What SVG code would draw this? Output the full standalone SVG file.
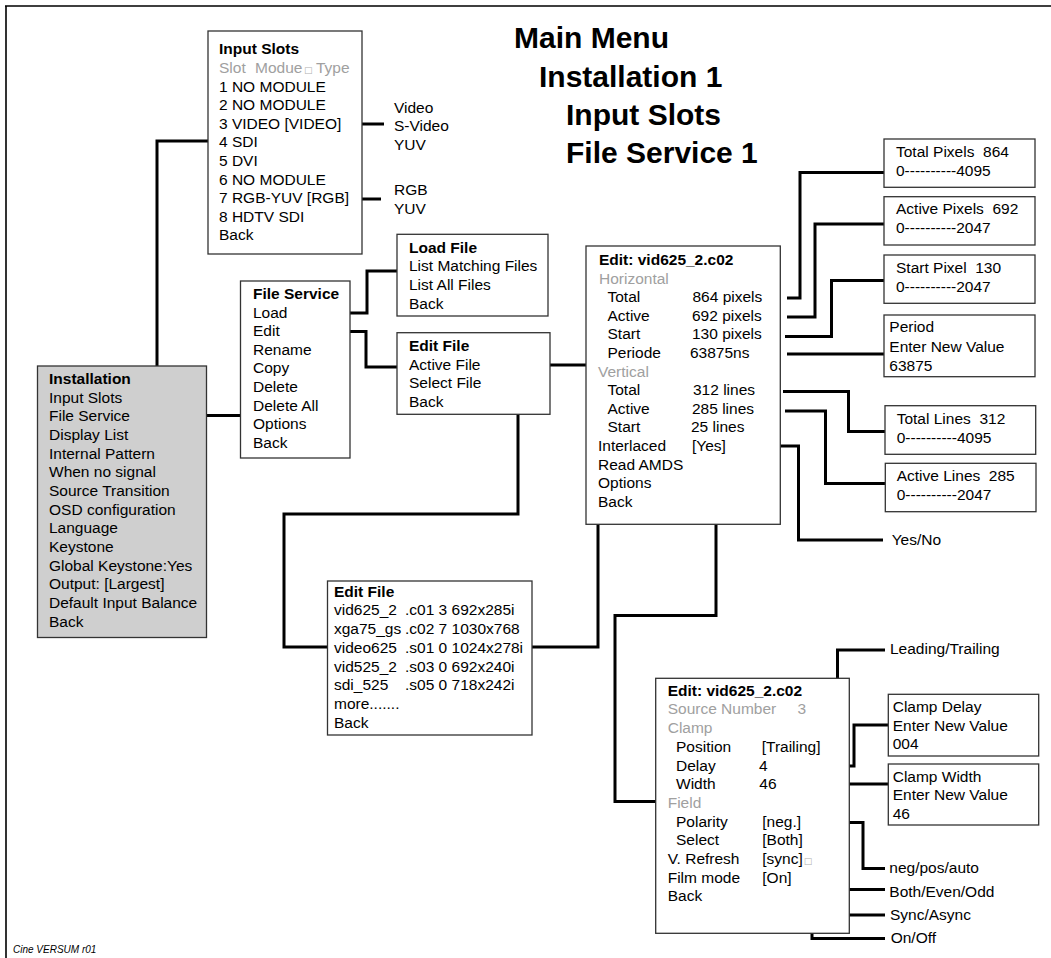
<svg xmlns="http://www.w3.org/2000/svg" width="1051" height="958" viewBox="0 0 1051 958">
<style>
text{font-family:"Liberation Sans",Arial,sans-serif;font-size:15.5px;fill:#000}
.b{font-weight:bold}
.g{fill:#a0a0a0}
.h{font-weight:bold;font-size:30px}
.box{fill:#fff;stroke:#333;stroke-width:1.3}
.gray{fill:#cfcfcf;stroke:#333;stroke-width:1.3}
.c{fill:none;stroke:#000;stroke-width:3;stroke-linejoin:miter}
.sq{font-family:"DejaVu Sans",sans-serif;font-size:9px;fill:#b0b0b0}
.f{font-size:10px;font-style:italic}
</style>
<rect width="1051" height="958" fill="#fff"/>
<g id="frame"><path d="M5,6H1051M6,6V958" fill="none" stroke="#000" stroke-width="1.6"/></g>
<g id="title">
<text class="h" x="514" y="48">Main Menu</text>
<text class="h" x="539" y="87">Installation 1</text>
<text class="h" x="566" y="125">Input Slots</text>
<text class="h" x="566" y="163">File Service 1</text>
</g>
<g id="connectors">
<path class="c" d="M353,124H384"/>
<path class="c" d="M358,199H381"/>
<path class="c" d="M135,397.5H157V141H208"/>
<path class="c" d="M142,415.5H241"/>
<path class="c" d="M303,313H367V271H397"/>
<path class="c" d="M291,331.5H366V367H397"/>
<path class="c" d="M492,365H586"/>
<path class="c" d="M492,383.5H518V514H284V647H328"/>
<path class="c" d="M532,647H598V524"/>
<path class="c" d="M787,298H800V172.5H884"/>
<path class="c" d="M787,317H815V224H884"/>
<path class="c" d="M785,336.5H831.5V280.5H884"/>
<path class="c" d="M787,354H884"/>
<path class="c" d="M783,391.5H848.5V431.5H885"/>
<path class="c" d="M785,411H825.5V483.5H885"/>
<path class="c" d="M740,446H798.5V540H883"/>
<path class="c" d="M670,488.5H716V615.5H615V801.5H656"/>
<path class="c" d="M827.5,747.5H837.5V650H885"/>
<path class="c" d="M776.5,766H854V725H888"/>
<path class="c" d="M793,784H888"/>
<path class="c" d="M808,822.5H863V868.5H885"/>
<path class="c" d="M808,840.5H840V889.5H885"/>
<path class="c" d="M815,860H825.5V915H885"/>
<path class="c" d="M808,880.5H812V938.5H885"/>
</g>
<g id="input-slots">
<rect class="box" x="208" y="31" width="154" height="223"/>
<text class="b" x="219" y="54.3">Input Slots</text>
<text class="g" x="219" y="72.9">Slot<tspan x="255">Modue</tspan><tspan class="sq" x="304">□</tspan><tspan x="316">Type</tspan></text>
<text x="219" y="91.5">1 NO MODULE</text>
<text x="219" y="110.1">2 NO MODULE</text>
<text x="219" y="128.7">3 VIDEO [VIDEO]</text>
<text x="219" y="147.3">4 SDI</text>
<text x="219" y="165.9">5 DVI</text>
<text x="219" y="184.5">6 NO MODULE</text>
<text x="219" y="203.1">7 RGB-YUV [RGB]</text>
<text x="219" y="221.7">8 HDTV SDI</text>
<text x="219" y="240.3">Back</text>
</g>
<g id="video-types">
<text x="394" y="112.7">Video</text>
<text x="394" y="131.2">S-Video</text>
<text x="394" y="149.8">YUV</text>
</g>
<g id="rgb-types">
<text x="394" y="195">RGB</text>
<text x="394" y="213.8">YUV</text>
</g>
<g id="installation">
<rect class="gray" x="37.5" y="366" width="169" height="271.5"/>
<text class="b" x="49" y="384">Installation</text>
<text x="49" y="402.7">Input Slots</text>
<text x="49" y="421.3">File Service</text>
<text x="49" y="440">Display List</text>
<text x="49" y="458.7">Internal Pattern</text>
<text x="49" y="477.3">When no signal</text>
<text x="49" y="496">Source Transition</text>
<text x="49" y="514.7">OSD configuration</text>
<text x="49" y="533.3">Language</text>
<text x="49" y="552">Keystone</text>
<text x="49" y="570.7">Global Keystone:Yes</text>
<text x="49" y="589.3">Output: [Largest]</text>
<text x="49" y="608">Default Input Balance</text>
<text x="49" y="626.7">Back</text>
</g>
<g id="file-service">
<rect class="box" x="240.5" y="281" width="109.5" height="177"/>
<text class="b" x="253" y="299">File Service</text>
<text x="253" y="317.6">Load</text>
<text x="253" y="336.2">Edit</text>
<text x="253" y="354.8">Rename</text>
<text x="253" y="373.4">Copy</text>
<text x="253" y="392">Delete</text>
<text x="253" y="410.6">Delete All</text>
<text x="253" y="429.2">Options</text>
<text x="253" y="447.8">Back</text>
</g>
<g id="load-file">
<rect class="box" x="397" y="234.3" width="151" height="81.7"/>
<text class="b" x="409" y="252.7">Load File</text>
<text x="409" y="271.3">List Matching Files</text>
<text x="409" y="289.9">List All Files</text>
<text x="409" y="308.5">Back</text>
</g>
<g id="edit-file">
<rect class="box" x="397" y="332.7" width="153" height="81.6"/>
<text class="b" x="409" y="351">Edit File</text>
<text x="409" y="369.6">Active File</text>
<text x="409" y="388.2">Select File</text>
<text x="409" y="406.8">Back</text>
</g>
<g id="edit-file-list">
<rect class="box" x="327.5" y="581" width="204.5" height="154"/>
<text class="b" x="334" y="596.7">Edit File</text>
<text x="334" y="615.4">vid625_2<tspan x="405">.c01 3 692x285i</tspan></text>
<text x="334" y="634.1">xga75_gs<tspan x="405">.c02 7 1030x768</tspan></text>
<text x="334" y="652.8">video625<tspan x="405">.s01 0 1024x278i</tspan></text>
<text x="334" y="671.5">vid525_2<tspan x="405">.s03 0 692x240i</tspan></text>
<text x="334" y="690.2">sdi_525<tspan x="405">.s05 0 718x242i</tspan></text>
<text x="334" y="708.9">more.......</text>
<text x="334" y="727.6">Back</text>
</g>
<g id="edit-active">
<rect class="box" x="586" y="246" width="194.3" height="278.3"/>
<text class="b" x="599" y="265">Edit: vid625_2.c02</text>
<text class="g" x="599" y="283.6">Horizontal</text>
<text x="607.5" y="302.2">Total<tspan x="692.5">864 pixels</tspan></text>
<text x="607.5" y="320.8">Active<tspan x="692">692 pixels</tspan></text>
<text x="607.5" y="339.4">Start<tspan x="692">130 pixels</tspan></text>
<text x="607.5" y="358">Periode<tspan x="690">63875ns</tspan></text>
<text class="g" x="598" y="376.6">Vertical</text>
<text x="607.5" y="395.2">Total<tspan x="693">312 lines</tspan></text>
<text x="607.5" y="413.8">Active<tspan x="692">285 lines</tspan></text>
<text x="607.5" y="432.4">Start<tspan x="691">25 lines</tspan></text>
<text x="598" y="451">Interlaced<tspan x="692">[Yes]</tspan></text>
<text x="598" y="469.6">Read AMDS</text>
<text x="598" y="488.2">Options</text>
<text x="598" y="506.8">Back</text>
</g>
<g id="total-pixels">
<rect class="box" x="884" y="139" width="151" height="48.3"/>
<text x="896" y="156.7" xml:space="preserve">Total Pixels  864</text>
<text x="896" y="175.7">0----------4095</text>
</g>
<g id="active-pixels">
<rect class="box" x="884" y="196.7" width="151" height="48.3"/>
<text x="896" y="214.3" xml:space="preserve">Active Pixels  692</text>
<text x="896" y="233.3">0----------2047</text>
</g>
<g id="start-pixel">
<rect class="box" x="884" y="255" width="151" height="48.3"/>
<text x="896" y="272.7" xml:space="preserve">Start Pixel  130</text>
<text x="896" y="291.7">0----------2047</text>
</g>
<g id="period">
<rect class="box" x="884" y="315" width="151" height="61.7"/>
<text x="889.3" y="332.3">Period</text>
<text x="889.3" y="351.7">Enter New Value</text>
<text x="889.3" y="370.7">63875</text>
</g>
<g id="total-lines">
<rect class="box" x="885" y="405.7" width="150.7" height="48.6"/>
<text x="896.7" y="424" xml:space="preserve">Total Lines  312</text>
<text x="896.7" y="443.3">0----------4095</text>
</g>
<g id="active-lines">
<rect class="box" x="885.3" y="463.3" width="150.7" height="48.4"/>
<text x="896.7" y="480.7" xml:space="preserve">Active Lines  285</text>
<text x="896.7" y="500">0----------2047</text>
</g>
<g id="yes-no"><text x="891.7" y="544.5">Yes/No</text></g>
<g id="edit-options">
<rect class="box" x="655.7" y="678.3" width="193.6" height="255"/>
<text class="b" x="667.7" y="695.7">Edit: vid625_2.c02</text>
<text class="g" x="667.7" y="714.4">Source Number<tspan x="797.5">3</tspan></text>
<text class="g" x="667.7" y="733.1">Clamp</text>
<text x="676" y="751.8">Position<tspan x="761.7">[Trailing]</tspan></text>
<text x="676" y="770.5">Delay<tspan x="759">4</tspan></text>
<text x="676" y="789.2">Width<tspan x="759.3">46</tspan></text>
<text class="g" x="667.7" y="807.9">Field</text>
<text x="676" y="826.6">Polarity<tspan x="762.3">[neg.]</tspan></text>
<text x="676" y="845.3">Select<tspan x="762.3">[Both]</tspan></text>
<text x="667.7" y="864">V. Refresh<tspan x="762.3">[sync]</tspan><tspan class="sq" dx="1">□</tspan></text>
<text x="667.7" y="882.7">Film mode<tspan x="762.3">[On]</tspan></text>
<text x="667.7" y="901.4">Back</text>
</g>
<g id="leading-trailing"><text x="890" y="654">Leading/Trailing</text></g>
<g id="clamp-delay">
<rect class="box" x="888.3" y="694.3" width="150.4" height="61.7"/>
<text x="892.7" y="711.7">Clamp Delay</text>
<text x="892.7" y="730.7">Enter New Value</text>
<text x="892.7" y="749.3">004</text>
</g>
<g id="clamp-width">
<rect class="box" x="888.3" y="764" width="150.4" height="61"/>
<text x="892.7" y="781.7">Clamp Width</text>
<text x="892.7" y="800">Enter New Value</text>
<text x="892.7" y="819">46</text>
</g>
<g id="choices">
<text x="889.3" y="872.7">neg/pos/auto</text>
<text x="889.3" y="896.7">Both/Even/Odd</text>
<text x="890" y="920">Sync/Async</text>
<text x="890.7" y="943.3">On/Off</text>
</g>
<g id="footer"><text class="f" x="13" y="953">Cine VERSUM r01</text></g>
</svg>
